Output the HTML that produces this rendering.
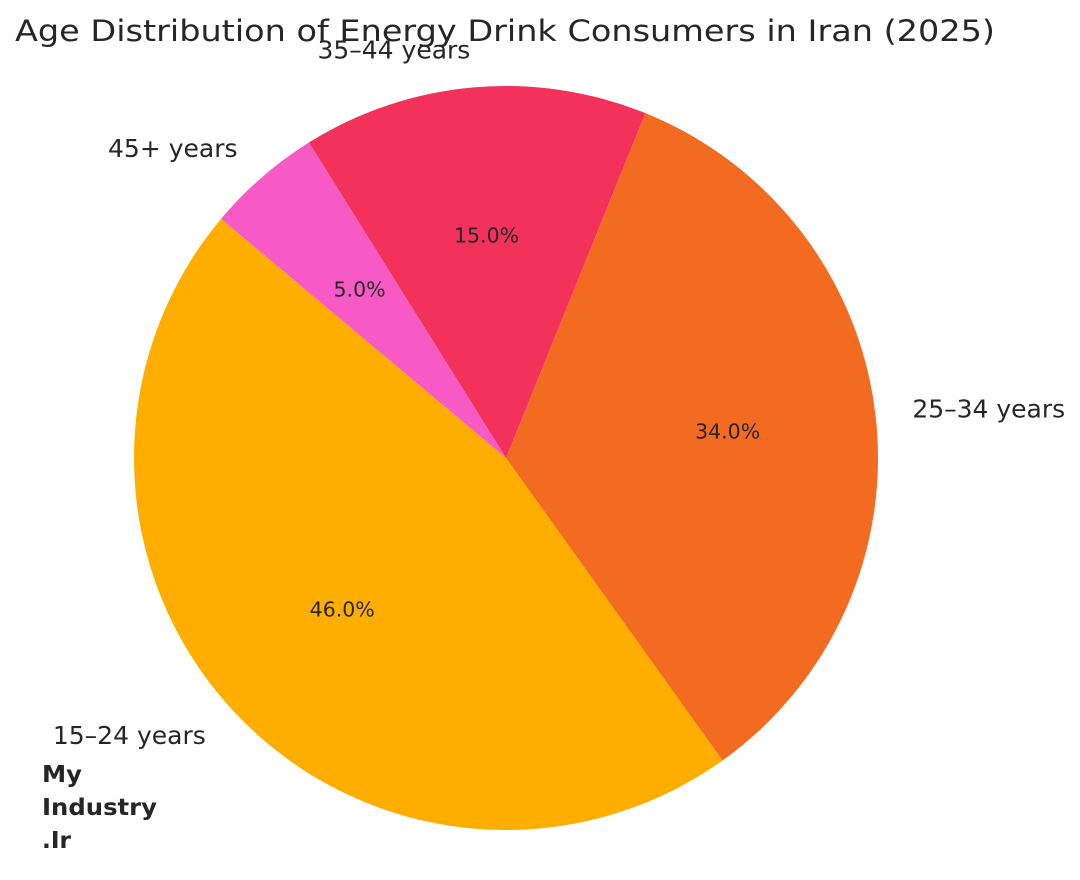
<!DOCTYPE html>
<html><head><meta charset="utf-8"><style>
body{margin:0;background:#fff;width:1080px;height:880px;overflow:hidden}
svg{display:block}
text{font-family:"DejaVu Sans","Liberation Sans",sans-serif;fill:#262626}
</style></head><body>
<svg id="chart" width="1080" height="880">
<text x="505" y="41" font-size="29" text-anchor="middle" textLength="980" lengthAdjust="spacingAndGlyphs">Age Distribution of Energy Drink Consumers in Iran (2025)</text>
<g id="slices"></g>
<text x="42" y="782" font-size="23" font-weight="bold" textLength="40" lengthAdjust="spacingAndGlyphs">My</text>
<text x="42" y="815" font-size="23" font-weight="bold" textLength="115" lengthAdjust="spacingAndGlyphs">Industry</text>
<text x="42" y="848" font-size="23" font-weight="bold" textLength="29" lengthAdjust="spacingAndGlyphs">.Ir</text>
</svg>
<script>
const categories=["15–24 years","25–34 years","35–44 years","45+ years"];
const values=[46,34,15,5];
const colors=["#FFAE00","#F26B21","#F2325A","#F75AC4"];
const cx=506,cy=458,r=372,start=140;
const g=document.getElementById('slices');
const ns="http://www.w3.org/2000/svg";
const total=values.reduce((a,b)=>a+b,0);
let a0=start;
function pt(deg,rr){const t=deg*Math.PI/180;return [cx+rr*Math.cos(t),cy-rr*Math.sin(t)];}
values.forEach((v,i)=>{
  const sweep=v/total*360,a1=a0+sweep;
  const p0=pt(a0,r),p1=pt(a1,r);
  const path=document.createElementNS(ns,'path');
  path.setAttribute('d',`M${cx},${cy}L${p0[0]},${p0[1]}A${r},${r} 0 ${sweep>180?1:0} 0 ${p1[0]},${p1[1]}Z`);
  path.setAttribute('fill',colors[i]);
  
  
  g.appendChild(path);
  const mid=(a0+a1)/2;
  const lp=pt(mid,r*1.1);
  const lab=document.createElementNS(ns,'text');
  lab.setAttribute('x',lp[0]);lab.setAttribute('y',lp[1]+8);
  lab.setAttribute('font-size','25');
  lab.setAttribute('text-anchor',Math.cos(mid*Math.PI/180)<0?'end':'start');
  lab.textContent=categories[i];
  
  
  g.appendChild(lab);
  const pp=pt(mid,r*0.6);
  const pc=document.createElementNS(ns,'text');
  pc.setAttribute('x',pp[0]);pc.setAttribute('y',pp[1]+7);
  pc.setAttribute('font-size','20.5');
  pc.setAttribute('text-anchor','middle');
  pc.textContent=(v/total*100).toFixed(1)+'%';
  
  
  g.appendChild(pc);
  a0=a1;
});
</script>
</body></html>
